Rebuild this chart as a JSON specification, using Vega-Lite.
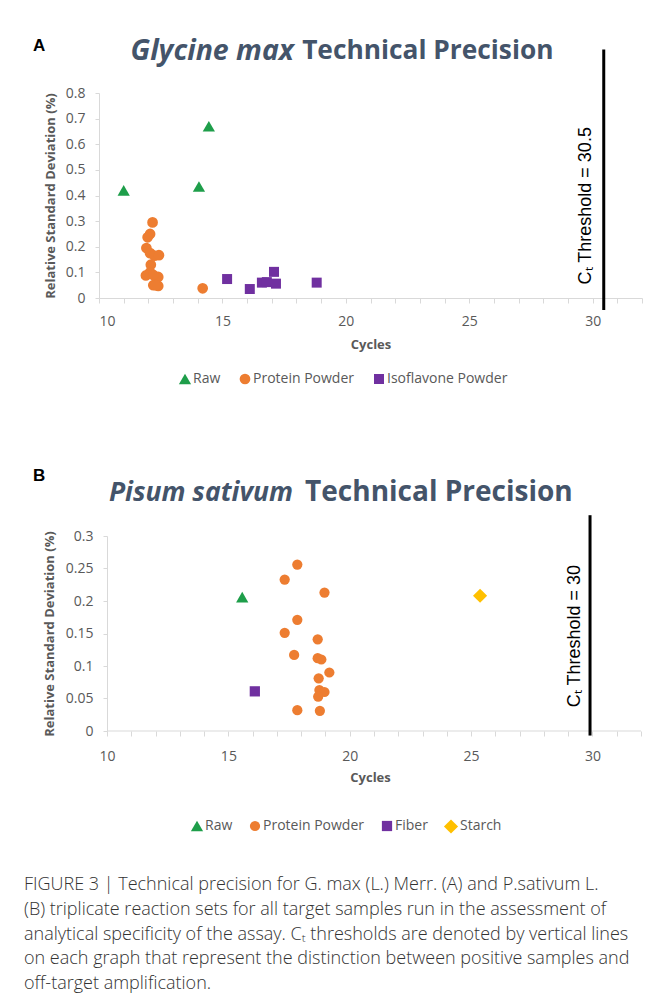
{
  "$schema": "https://vega.github.io/schema/vega-lite/v6.json",
  "background": "white",
  "padding": {"left": 24, "top": 36, "right": 5, "bottom": 5},
  "config": {
    "view": {"stroke": null},
    "axis": {
      "grid": false,
      "domainColor": "#D9D9D9",
      "tickColor": "#D9D9D9",
      "labelFont": "Open Sans",
      "labelFontSize": 14,
      "labelColor": "#595959",
      "labelOverlap": false,
      "titleFont": "Open Sans",
      "titleFontSize": 13,
      "titleFontWeight": "bold",
      "titleColor": "#595959"
    },
    "legend": {"labelFont": "Open Sans", "labelFontSize": 14, "labelColor": "#595959"}
  },
  "vconcat": [
    {
      "vconcat": [
        {
          "width": 543,
          "height": 205,
          "layer": [
            {
              "data": {"values": [
                {"type": "Raw", "cycles": 11.0, "rsd": 0.42},
                {"type": "Raw", "cycles": 14.05, "rsd": 0.435},
                {"type": "Raw", "cycles": 14.45, "rsd": 0.67},
                {"type": "Protein Powder", "cycles": 12.17, "rsd": 0.295},
                {"type": "Protein Powder", "cycles": 12.07, "rsd": 0.25},
                {"type": "Protein Powder", "cycles": 11.97, "rsd": 0.237},
                {"type": "Protein Powder", "cycles": 11.92, "rsd": 0.195},
                {"type": "Protein Powder", "cycles": 12.07, "rsd": 0.175},
                {"type": "Protein Powder", "cycles": 12.25, "rsd": 0.165},
                {"type": "Protein Powder", "cycles": 12.43, "rsd": 0.167},
                {"type": "Protein Powder", "cycles": 12.1, "rsd": 0.13},
                {"type": "Protein Powder", "cycles": 12.07, "rsd": 0.1},
                {"type": "Protein Powder", "cycles": 11.9, "rsd": 0.088},
                {"type": "Protein Powder", "cycles": 12.4, "rsd": 0.082},
                {"type": "Protein Powder", "cycles": 12.2, "rsd": 0.09},
                {"type": "Protein Powder", "cycles": 12.2, "rsd": 0.05},
                {"type": "Protein Powder", "cycles": 12.4, "rsd": 0.047},
                {"type": "Protein Powder", "cycles": 12.3, "rsd": 0.05},
                {"type": "Protein Powder", "cycles": 14.2, "rsd": 0.038},
                {"type": "Isoflavone Powder", "cycles": 15.19, "rsd": 0.074},
                {"type": "Isoflavone Powder", "cycles": 16.11, "rsd": 0.035},
                {"type": "Isoflavone Powder", "cycles": 16.6, "rsd": 0.06},
                {"type": "Isoflavone Powder", "cycles": 16.8, "rsd": 0.062},
                {"type": "Isoflavone Powder", "cycles": 17.09, "rsd": 0.102},
                {"type": "Isoflavone Powder", "cycles": 17.17, "rsd": 0.056},
                {"type": "Isoflavone Powder", "cycles": 18.82, "rsd": 0.06}
              ]},
              "mark": {"type": "point", "filled": true, "opacity": 1},
              "encoding": {
                "x": {"field": "cycles", "type": "quantitative", "title": "Cycles",
                  "scale": {"domain": [10, 32], "nice": false, "zero": false},
                  "axis": {"values": [10,11,12,13,14,15,16,17,18,19,20,21,22,23,24,25,26,27,28,29,30,31,32], "tickCount": 100,
                    "labelExpr": "datum.value % 5 === 0 ? '' + datum.value : ''", "labelOverlap": false,
                    "tickSize": 5, "labelPadding": 11, "titlePadding": 10}},
                "y": {"field": "rsd", "type": "quantitative", "title": "Relative Standard Deviation (%)",
                  "scale": {"domain": [0, 0.8], "nice": false},
                  "axis": {"values": [0,0.1,0.2,0.3,0.4,0.5,0.6,0.7,0.8], "tickCount": 100, "labelOverlap": false,
                    "labelExpr": "'' + datum.value", "tickSize": 4, "labelPadding": 10, "titlePadding": 8}},
                "color": {"field": "type", "type": "nominal",
                  "scale": {"domain": ["Raw", "Protein Powder", "Isoflavone Powder"], "range": ["#1E9E4A", "#ED7D31", "#7030A0"]},
                  "legend": {"title": null, "orient": "none", "direction": "horizontal", "legendX": 79, "legendY": 279,
                    "symbolSize": 60, "columnPadding": 17, "labelOffset": 1}},
                "shape": {"field": "type", "type": "nominal",
                  "scale": {"domain": ["Raw", "Protein Powder", "Isoflavone Powder"], "range": ["triangle-up", "circle", "square"]}},
                "size": {"field": "type", "type": "nominal", "legend": null,
                  "scale": {"type": "ordinal", "domain": ["Raw", "Protein Powder", "Isoflavone Powder"], "range": [150, 115, 100]}}
              }
            },
            {
              "data": {"values": [{"x": 30.45, "y": 0.97, "y2": -0.047}]},
              "mark": {"type": "rule", "color": "black", "strokeWidth": 3},
              "encoding": {
                "x": {"field": "x", "type": "quantitative"},
                "y": {"field": "y", "type": "quantitative"},
                "y2": {"field": "y2"}
              }
            },
            {
              "data": {"values": [{"x": 29.72, "y": 0.36, "t": "Cₜ Threshold = 30.5"}]},
              "mark": {"type": "text", "angle": 270, "align": "center", "baseline": "middle", "font": "Liberation Sans", "fontSize": 18, "color": "black"},
              "encoding": {
                "x": {"field": "x", "type": "quantitative"},
                "y": {"field": "y", "type": "quantitative"},
                "text": {"field": "t"}
              }
            },
            {
              "data": {"values": [{"x": 17.9, "y": 0.965, "t": "Glycine max"}]},
              "mark": {"type": "text", "align": "right", "baseline": "middle", "font": "Open Sans", "fontSize": 28.5, "fontWeight": "bold", "fontStyle": "italic", "color": "#44546A"},
              "encoding": {
                "x": {"field": "x", "type": "quantitative"},
                "y": {"field": "y", "type": "quantitative"},
                "text": {"field": "t"}
              }
            },
            {
              "data": {"values": [{"x": 18.23, "y": 0.965, "t": "Technical Precision"}]},
              "mark": {"type": "text", "align": "left", "baseline": "middle", "font": "Open Sans", "fontSize": 26.3, "fontWeight": "bold", "color": "#44546A"},
              "encoding": {
                "x": {"field": "x", "type": "quantitative"},
                "y": {"field": "y", "type": "quantitative"},
                "text": {"field": "t"}
              }
            },
            {
              "data": {"values": [{"x": 7.33, "y": 0.983, "t": "A"}]},
              "mark": {"type": "text", "align": "left", "baseline": "middle", "font": "Liberation Sans", "fontSize": 17, "fontWeight": "bold", "color": "black"},
              "encoding": {
                "x": {"field": "x", "type": "quantitative"},
                "y": {"field": "y", "type": "quantitative"},
                "text": {"field": "t"}
              }
            }
          ]
        },
        {
          "width": 542,
          "height": 195,
          "layer": [
            {
              "data": {"values": [{"x": 10, "x2": 32, "y": 0}]},
              "mark": {"type": "rule", "color": "#D9D9D9", "strokeWidth": 1},
              "encoding": {
                "x": {"field": "x", "type": "quantitative"},
                "x2": {"field": "x2"},
                "y": {"field": "y", "type": "quantitative"}
              }
            },
            {
              "data": {"values": [
                {"type": "Raw", "cycles": 15.57, "rsd": 0.206},
                {"type": "Fiber", "cycles": 16.09, "rsd": 0.061},
                {"type": "Starch", "cycles": 25.37, "rsd": 0.208},
                {"type": "Protein Powder", "cycles": 17.84, "rsd": 0.256},
                {"type": "Protein Powder", "cycles": 17.32, "rsd": 0.233},
                {"type": "Protein Powder", "cycles": 18.96, "rsd": 0.213},
                {"type": "Protein Powder", "cycles": 17.84, "rsd": 0.171},
                {"type": "Protein Powder", "cycles": 17.32, "rsd": 0.151},
                {"type": "Protein Powder", "cycles": 18.68, "rsd": 0.141},
                {"type": "Protein Powder", "cycles": 17.71, "rsd": 0.117},
                {"type": "Protein Powder", "cycles": 18.68, "rsd": 0.112},
                {"type": "Protein Powder", "cycles": 18.83, "rsd": 0.11},
                {"type": "Protein Powder", "cycles": 19.16, "rsd": 0.09},
                {"type": "Protein Powder", "cycles": 18.72, "rsd": 0.081},
                {"type": "Protein Powder", "cycles": 18.75, "rsd": 0.063},
                {"type": "Protein Powder", "cycles": 18.96, "rsd": 0.06},
                {"type": "Protein Powder", "cycles": 18.7, "rsd": 0.053},
                {"type": "Protein Powder", "cycles": 17.84, "rsd": 0.032},
                {"type": "Protein Powder", "cycles": 18.77, "rsd": 0.031}
              ]},
              "mark": {"type": "point", "filled": true, "opacity": 1},
              "encoding": {
                "x": {"field": "cycles", "type": "quantitative", "title": "Cycles",
                  "scale": {"domain": [9.67, 32], "nice": false, "zero": false},
                  "axis": {"values": [10,11,12,13,14,15,16,17,18,19,20,21,22,23,24,25,26,27,28,29,30,31,32], "tickCount": 100,
                    "labelExpr": "datum.value % 5 === 0 ? '' + datum.value : ''", "domain": false, "labelOverlap": false,
                    "tickSize": 5, "labelPadding": 13, "titlePadding": 8}},
                "y": {"field": "rsd", "type": "quantitative", "title": "Relative Standard Deviation (%)",
                  "scale": {"domain": [0, 0.3], "nice": false},
                  "axis": {"values": [0,0.05,0.1,0.15,0.2,0.25,0.3], "tickCount": 100, "offset": -8, "labelOverlap": false,
                    "labelExpr": "'' + datum.value", "tickSize": 4, "labelPadding": 10, "titlePadding": 9}},
                "color": {"field": "type", "type": "nominal",
                  "scale": {"domain": ["Raw", "Protein Powder", "Fiber", "Starch"], "range": ["#1E9E4A", "#ED7D31", "#7030A0", "#FFC000"]},
                  "legend": {"title": null, "orient": "none", "direction": "horizontal", "legendX": 91, "legendY": 282,
                    "symbolSize": 60, "columnPadding": 15, "labelOffset": 1}},
                "shape": {"field": "type", "type": "nominal",
                  "scale": {"domain": ["Raw", "Protein Powder", "Fiber", "Starch"], "range": ["triangle-up", "circle", "square", "diamond"]}},
                "size": {"field": "type", "type": "nominal", "legend": null,
                  "scale": {"type": "ordinal", "domain": ["Raw", "Protein Powder", "Fiber", "Starch"], "range": [150, 105, 105, 200]}}
              }
            },
            {
              "data": {"values": [{"x": 29.9, "y": 0.332, "y2": -0.007}]},
              "mark": {"type": "rule", "color": "black", "strokeWidth": 3},
              "encoding": {
                "x": {"field": "x", "type": "quantitative"},
                "y": {"field": "y", "type": "quantitative"},
                "y2": {"field": "y2"}
              }
            },
            {
              "data": {"values": [{"x": 29.28, "y": 0.146, "t": "Cₜ Threshold = 30"}]},
              "mark": {"type": "text", "angle": 270, "align": "center", "baseline": "middle", "font": "Liberation Sans", "fontSize": 18, "color": "black"},
              "encoding": {
                "x": {"field": "x", "type": "quantitative"},
                "y": {"field": "y", "type": "quantitative"},
                "text": {"field": "t"}
              }
            },
            {
              "data": {"values": [{"x": 17.66, "y": 0.366, "t": "Pisum sativum"}]},
              "mark": {"type": "text", "align": "right", "baseline": "middle", "font": "Open Sans", "fontSize": 26.5, "fontWeight": "bold", "fontStyle": "italic", "color": "#44546A"},
              "encoding": {
                "x": {"field": "x", "type": "quantitative"},
                "y": {"field": "y", "type": "quantitative"},
                "text": {"field": "t"}
              }
            },
            {
              "data": {"values": [{"x": 18.16, "y": 0.366, "t": "Technical Precision"}]},
              "mark": {"type": "text", "align": "left", "baseline": "middle", "font": "Open Sans", "fontSize": 28, "fontWeight": "bold", "color": "#44546A"},
              "encoding": {
                "x": {"field": "x", "type": "quantitative"},
                "y": {"field": "y", "type": "quantitative"},
                "text": {"field": "t"}
              }
            },
            {
              "data": {"values": [{"x": 6.95, "y": 0.392, "t": "B"}]},
              "mark": {"type": "text", "align": "left", "baseline": "middle", "font": "Liberation Sans", "fontSize": 17, "fontWeight": "bold", "color": "black"},
              "encoding": {
                "x": {"field": "x", "type": "quantitative"},
                "y": {"field": "y", "type": "quantitative"},
                "text": {"field": "t"}
              }
            }
          ]
        }
      ],
      "spacing": 81,
      "resolve": {"scale": {"color": "independent", "shape": "independent", "size": "independent"}}
    },
    {
      "width": 600,
      "height": {"step": 24.7},
      "data": {"values": [
        {"line": 1, "t": "FIGURE 3 | Technical precision for G. max (L.) Merr. (A) and P.sativum L."},
        {"line": 2, "t": "(B) triplicate reaction sets for all target samples run in the assessment of"},
        {"line": 3, "t": "analytical specificity of the assay. Cₜ thresholds are denoted by vertical lines"},
        {"line": 4, "t": "on each graph that represent the distinction between positive samples and"},
        {"line": 5, "t": "off-target amplification."}
      ]},
      "mark": {"type": "text", "align": "left", "baseline": "middle", "font": "Open Sans", "fontSize": 18, "fontWeight": 300, "color": "#333333"},
      "encoding": {
        "y": {"field": "line", "type": "ordinal", "axis": null, "scale": {"padding": 0.5}},
        "x": {"value": -75},
        "text": {"field": "t"}
      }
    }
  ],
  "spacing": 39
}
